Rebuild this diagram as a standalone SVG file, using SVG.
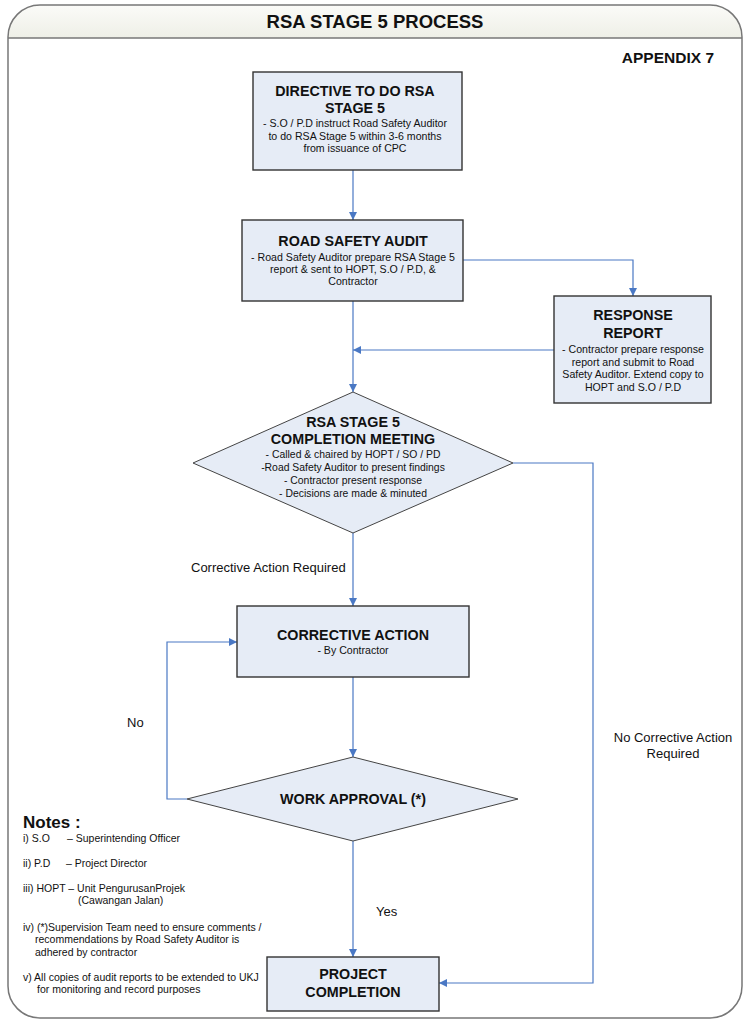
<svg xmlns="http://www.w3.org/2000/svg" width="750" height="1025" viewBox="0 0 750 1025">
<defs>
<linearGradient id="hdr" x1="0" y1="0" x2="0" y2="1">
<stop offset="0" stop-color="#fbfbf8"/>
<stop offset="1" stop-color="#eeefe7"/>
</linearGradient>
<marker id="arr" viewBox="0 0 10 10" refX="10" refY="5" markerWidth="9" markerHeight="8" markerUnits="userSpaceOnUse" orient="auto">
<path d="M0,0 L10,5 L0,10 Z" fill="#4a78c4"/>
</marker>
</defs>
<style>
text{font-family:"Liberation Sans",Arial,sans-serif;fill:#111;}
.t{font-weight:bold;font-size:14.3px;text-anchor:middle;}
.s{font-size:10.6px;text-anchor:middle;}
.d{font-size:10.4px;text-anchor:middle;}
.n{font-size:10.5px;}
.l{font-size:13px;}
.box{fill:#e6ecf6;stroke:#333;stroke-width:1.4;}
.dia{fill:#e6ecf6;stroke:#444;stroke-width:1;}
.c{fill:none;stroke:#4a78c4;stroke-width:1.2;marker-end:url(#arr);}
</style>
<rect width="750" height="1025" fill="#fff"/>
<g id="frame">
<path d="M8,38 V37 A32,32 0 0 1 40,5 H710 A32,32 0 0 1 742,37 V38 Z" fill="url(#hdr)"/>
<path d="M40,5 H710 A32,32 0 0 1 742,37 V986 A32,32 0 0 1 710,1018 H40 A32,32 0 0 1 8,986 V37 A32,32 0 0 1 40,5 Z" fill="none" stroke="#777" stroke-width="1.5"/>
<line x1="8" y1="38" x2="742" y2="38" stroke="#777" stroke-width="1.5"/>
<text x="375" y="28" font-size="18.5" font-weight="bold" text-anchor="middle">RSA STAGE 5 PROCESS</text>
<text x="714" y="63" font-size="15.5" font-weight="bold" text-anchor="end">APPENDIX 7</text>
</g>
<g id="connectors">
<path class="c" d="M353,170 V220"/>
<path class="c" d="M463,260 H633 V296"/>
<path class="c" d="M353,301 V392"/>
<path class="c" d="M554,350 H353"/>
<path class="c" d="M513,463 H593 V983 H439"/>
<path class="c" d="M353,533 V606"/>
<path class="c" d="M353,677 V757"/>
<path class="c" d="M187,799 H167 V642 H237"/>
<path class="c" d="M353,841 V957"/>
<text class="l" x="191" y="572">Corrective Action Required</text>
<text class="l" x="673" y="742" text-anchor="middle">No Corrective Action</text>
<text class="l" x="673" y="758" text-anchor="middle">Required</text>
<text class="l" x="127" y="727">No</text>
<text class="l" x="376" y="916">Yes</text>
</g>
<g id="directive">
<rect class="box" x="253" y="72" width="209" height="98"/>
<text class="t" x="355" y="96">DIRECTIVE TO DO RSA</text>
<text class="t" x="355" y="113">STAGE 5</text>
<text class="s" x="355" y="127">- S.O / P.D instruct Road Safety Auditor</text>
<text class="s" x="355" y="140">to do RSA Stage 5 within 3-6 months</text>
<text class="s" x="355" y="152">from issuance of CPC</text>
</g>
<g id="rsa">
<rect class="box" x="242" y="220" width="221" height="81"/>
<text class="t" x="353" y="246">ROAD SAFETY AUDIT</text>
<text class="s" x="353" y="261">- Road Safety Auditor prepare RSA Stage 5</text>
<text class="s" x="353" y="273">report &amp; sent to HOPT, S.O / P.D, &amp;</text>
<text class="s" x="353" y="285">Contractor</text>
</g>
<g id="response">
<rect class="box" x="554" y="296" width="157" height="107"/>
<text class="t" x="633" y="320" font-size="15.5">RESPONSE</text>
<text class="t" x="633" y="338" font-size="15.5">REPORT</text>
<text class="s" x="633" y="353">- Contractor prepare response</text>
<text class="s" x="633" y="366">report and submit to Road</text>
<text class="s" x="633" y="378">Safety Auditor.  Extend copy to</text>
<text class="s" x="633" y="391">HOPT and S.O / P.D</text>
</g>
<g id="meeting">
<polygon class="dia" points="353,392 513,463 353,533 193,463"/>
<text class="t" x="353" y="427">RSA STAGE 5</text>
<text class="t" x="353" y="444">COMPLETION MEETING</text>
<text class="d" x="353" y="458">- Called &amp; chaired by HOPT / SO / PD</text>
<text class="d" x="353" y="471">-Road Safety Auditor to present findings</text>
<text class="d" x="353" y="484">- Contractor present response</text>
<text class="d" x="353" y="497">- Decisions are made &amp; minuted</text>
</g>
<g id="corrective">
<rect class="box" x="237" y="606" width="232" height="71"/>
<text class="t" x="353" y="640">CORRECTIVE ACTION</text>
<text class="s" x="353" y="654">- By Contractor</text>
</g>
<g id="approval">
<polygon class="dia" points="353,757 518,799 353,841 187,799"/>
<text class="t" x="353" y="804">WORK APPROVAL (*)</text>
</g>
<g id="completion">
<rect class="box" x="267" y="957" width="172" height="54"/>
<text class="t" x="353" y="979">PROJECT</text>
<text class="t" x="353" y="997">COMPLETION</text>
</g>
<g id="notes">
<text x="23" y="828" font-size="17" font-weight="bold">Notes :</text>
<text class="n" x="23" y="842">i)  S.O</text>
<text class="n" x="67" y="842">– Superintending Officer</text>
<text class="n" x="23" y="867">ii) P.D</text>
<text class="n" x="66" y="867">– Project Director</text>
<text class="n" x="23" y="892">iii) HOPT – Unit PengurusanProjek</text>
<text class="n" x="78" y="904">(Cawangan Jalan)</text>
<text class="n" x="23" y="931">iv) (*)Supervision Team need to ensure comments /</text>
<text class="n" x="35" y="943">recommendations by Road Safety Auditor is</text>
<text class="n" x="35" y="956">adhered by contractor</text>
<text class="n" x="23" y="981">v) All copies of audit reports to be extended to UKJ</text>
<text class="n" x="37" y="993">for monitoring and record purposes</text>
</g>
</svg>
